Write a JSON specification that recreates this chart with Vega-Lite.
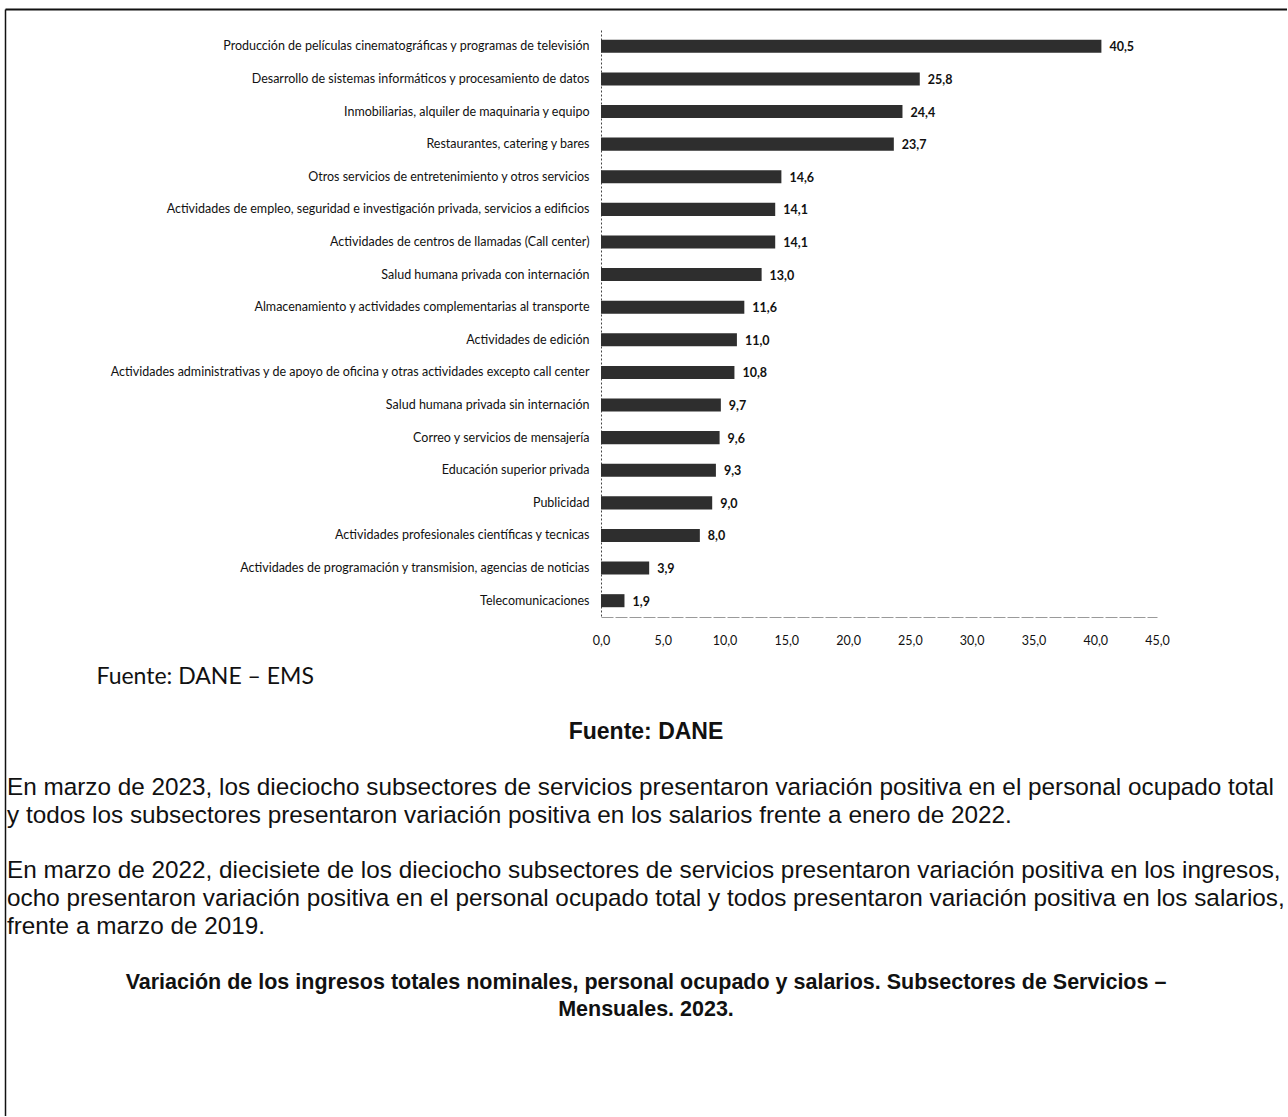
{
  "$schema": "https://vega.github.io/schema/vega-lite/v6.json",
  "background": "white",
  "padding": {"left": 5, "top": 9, "right": 0, "bottom": 0},
  "width": 1282,
  "height": 1107,
  "config": {
    "locale": {"number": {"decimal": ",", "thousands": ".", "grouping": [3], "currency": ["$", ""]}},
    "view": {"stroke": null},
    "font": "Lato"
  },
  "datasets": {
    "sectores": [
      {"sector": "Producción de películas cinematográficas y programas de televisión", "valor": 40.5},
      {"sector": "Desarrollo de sistemas informáticos y procesamiento de datos", "valor": 25.8},
      {"sector": "Inmobiliarias, alquiler de maquinaria y equipo", "valor": 24.4},
      {"sector": "Restaurantes, catering y bares", "valor": 23.7},
      {"sector": "Otros servicios de entretenimiento y otros servicios", "valor": 14.6},
      {"sector": "Actividades de empleo, seguridad e investigación privada, servicios a edificios", "valor": 14.1},
      {"sector": "Actividades de centros de llamadas (Call center)", "valor": 14.1},
      {"sector": "Salud humana privada con internación", "valor": 13.0},
      {"sector": "Almacenamiento y actividades complementarias al transporte", "valor": 11.6},
      {"sector": "Actividades de edición", "valor": 11.0},
      {"sector": "Actividades administrativas y de apoyo de oficina y otras actividades excepto call center", "valor": 10.8},
      {"sector": "Salud humana privada sin internación", "valor": 9.7},
      {"sector": "Correo y servicios de mensajería", "valor": 9.6},
      {"sector": "Educación superior privada", "valor": 9.3},
      {"sector": "Publicidad", "valor": 9.0},
      {"sector": "Actividades profesionales científicas y tecnicas", "valor": 8.0},
      {"sector": "Actividades de programación y transmision,  agencias de noticias", "valor": 3.9},
      {"sector": "Telecomunicaciones", "valor": 1.9}
    ],
    "parrafos": [
      {"line": 28, "text": "En marzo de 2023, los dieciocho subsectores de servicios presentaron variación positiva en el personal ocupado total"},
      {"line": 29, "text": "y todos los subsectores presentaron variación positiva en los salarios frente a enero  de 2022."},
      {"line": 31, "text": "En marzo de 2022, diecisiete de los dieciocho subsectores de servicios presentaron variación positiva en los ingresos,"},
      {"line": 32, "text": "ocho presentaron variación positiva en el personal ocupado total y todos presentaron variación positiva en los salarios,"},
      {"line": 33, "text": "frente a marzo de 2019."}
    ],
    "fuente": [
      {"line": 26, "text": "Fuente: DANE"}
    ],
    "titulos": [
      {"line": 35, "text": "Variación de los ingresos totales nominales, personal ocupado y salarios. Subsectores de Servicios –"},
      {"line": 36, "text": "Mensuales.  2023."}
    ]
  },
  "resolve": {
    "scale": {"x": "independent", "y": "independent"},
    "axis": {"x": "independent", "y": "independent"}
  },
  "layer": [
    {
      "data": {"name": "parrafos"},
      "mark": {"type": "text", "align": "left", "baseline": "middle", "dx": 2, "font": "Liberation Sans", "fontSize": 24.3, "color": "#111111"},
      "encoding": {
        "x": {
          "datum": 0,
          "type": "quantitative",
          "scale": {"domain": [0, 1], "nice": false, "zero": false},
          "axis": {"orient": "top", "title": null, "labels": false, "ticks": false, "grid": false, "domain": true, "domainColor": "#111111", "domainWidth": 2, "minExtent": 0, "maxExtent": 0}
        },
        "y": {
          "field": "line",
          "type": "quantitative",
          "scale": {"domain": [-0.03, 39.8], "reverse": true, "nice": false, "zero": false},
          "axis": {"orient": "left", "title": null, "labels": false, "ticks": false, "grid": false, "domain": true, "domainColor": "#111111", "domainWidth": 1.5, "minExtent": 0, "maxExtent": 0}
        },
        "text": {"field": "text", "type": "nominal"}
      }
    },
    {
      "data": {"name": "fuente"},
      "mark": {"type": "text", "align": "center", "baseline": "middle", "font": "Liberation Sans", "fontSize": 23, "fontWeight": "bold", "color": "#111111"},
      "encoding": {
        "y": {"field": "line", "type": "quantitative", "scale": {"domain": [-0.03, 39.8], "reverse": true, "nice": false, "zero": false}, "axis": null},
        "text": {"field": "text", "type": "nominal"}
      }
    },
    {
      "data": {"name": "titulos"},
      "mark": {"type": "text", "align": "center", "baseline": "middle", "font": "Liberation Sans", "fontSize": 21.5, "fontWeight": "bold", "color": "#111111"},
      "encoding": {
        "y": {"field": "line", "type": "quantitative", "scale": {"domain": [-0.03, 39.8], "reverse": true, "nice": false, "zero": false}, "axis": null},
        "text": {"field": "text", "type": "nominal"}
      }
    },
    {
      "data": {"name": "sectores"},
      "encoding": {
        "y": {
          "field": "sector",
          "type": "nominal",
          "sort": null,
          "scale": {"range": [21, 608], "paddingInner": 0.6, "paddingOuter": 0.3},
          "axis": {
            "orient": "left",
            "offset": -596,
            "title": null,
            "ticks": false,
            "grid": false,
            "labelFont": "Lato",
            "labelFontSize": 12.5,
            "labelColor": "#111111",
            "labelLimit": 600,
            "labelPadding": 12,
            "domain": true,
            "domainColor": "#444444",
            "domainDash": [2, 2],
            "domainWidth": 1,
            "minExtent": 0,
            "maxExtent": 0
          }
        },
        "x": {
          "field": "valor",
          "type": "quantitative",
          "scale": {"domain": [0, 45], "range": [596, 1152], "nice": false, "zero": false},
          "axis": {
            "orient": "bottom",
            "offset": -499,
            "values": [0, 5, 10, 15, 20, 25, 30, 35, 40, 45],
            "format": ".1f",
            "grid": false,
            "ticks": false,
            "labelFlush": false,
            "labelFont": "Lato",
            "labelFontSize": 12.5,
            "labelColor": "#111111",
            "labelPadding": 17,
            "domain": true,
            "domainColor": "#9a9a9a",
            "domainDash": [12, 2],
            "domainWidth": 1,
            "title": "Fuente: DANE – EMS",
            "titleFont": "Lato",
            "titleFontSize": 23,
            "titleFontWeight": "normal",
            "titleColor": "#111111",
            "titleAnchor": "start",
            "titleAlign": "left",
            "titleBaseline": "middle",
            "titleX": 91,
            "titleY": 59
          }
        }
      },
      "layer": [
        {"mark": {"type": "bar", "color": "#2e2e2e"}},
        {
          "mark": {"type": "text", "align": "left", "baseline": "middle", "dx": 8, "dy": 1, "font": "Lato", "fontSize": 12.5, "fontWeight": "bold", "color": "#111111"},
          "encoding": {"text": {"field": "valor", "type": "quantitative", "format": ".1f"}}
        }
      ]
    }
  ]
}
